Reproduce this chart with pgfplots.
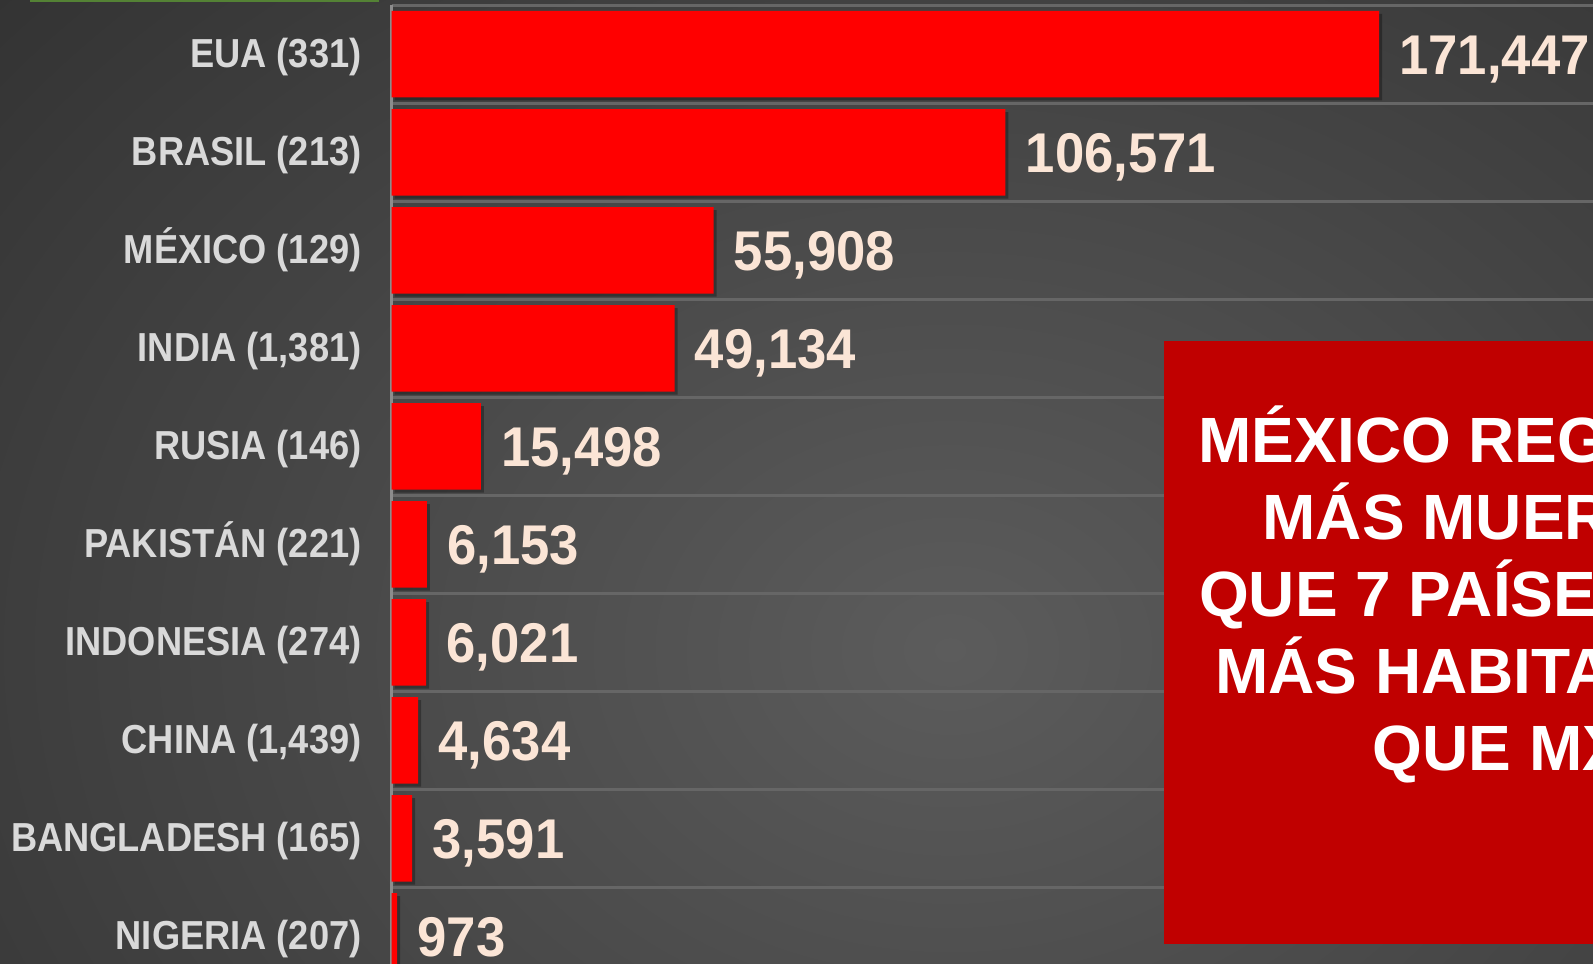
\documentclass[border=0pt]{standalone}
\usepackage{fontspec}
\setmainfont{Liberation Sans}[FakeStretch=0.895]
\newfontfamily\valfont{Liberation Sans}[FakeStretch=0.94]
\newfontfamily\boxfont{Liberation Sans}
\usepackage{pgfplots}
\pgfplotsset{compat=1.18}
\usetikzlibrary{shadows}

\definecolor{bgin}{RGB}{92,92,92}
\definecolor{bgout}{RGB}{34,34,34}
\definecolor{barred}{RGB}{255,0,0}
\definecolor{boxred}{RGB}{192,0,0}
\definecolor{labgray}{RGB}{217,217,217}
\definecolor{valpeach}{RGB}{251,229,214}
\definecolor{gridgray}{RGB}{102,102,102}
\definecolor{axgray}{RGB}{140,140,140}
\definecolor{topgreen}{RGB}{84,130,53}

\begin{document}
\begin{tikzpicture}
\useasboundingbox (0pt,0pt) rectangle (796.5pt,481.5pt);
\clip (0pt,0pt) rectangle (796.5pt,481.5pt);
% dark background, lighter towards the middle
\shade[inner color=bgin, outer color=bgout] (-425pt,-543.5pt) rectangle (1375pt,856.5pt);
\fill[topgreen] (15pt,480.5pt) rectangle (189.5pt,481.5pt);

\begin{axis}[
  at={(195.75pt,478.875pt)}, anchor=north west,
  scale only axis, width=619.2pt, height=490pt,
  xmin=0, xmax=215000, ymin=-0.5, ymax=9.5, y dir=reverse,
  xbar, bar width=43.25pt,
  axis line style={draw=none},
  xtick=\empty, ytick={0,...,9},
  yticklabels={EUA (331), BRASIL (213), MÉXICO (129), {INDIA (1,381)}, RUSIA (146),
    PAKISTÁN (221), INDONESIA (274), {CHINA (1,439)}, BANGLADESH (165), NIGERIA (207)},
  major tick length=0pt, minor tick length=0pt,
  minor ytick={-0.5,0.5,...,9.5},
  yminorgrids, minor grid style={gridgray, line width=1.5pt},
  extra x ticks={0}, extra x tick labels={},
  extra x tick style={grid=major, major grid style={axgray, line width=1.5pt}},
  yticklabel style={anchor=base east, inner sep=0pt, xshift=-14.8pt, yshift=-6.6pt,
    text=labgray, font=\fontsize{20.25}{20.25}\selectfont\bfseries},
  point meta=explicit symbolic,
  nodes near coords={\pgfplotspointmeta},
  nodes near coords style={anchor=base west, inner sep=0pt, xshift=10pt, yshift=-9.9pt,
    text=valpeach, font=\valfont\fontsize{28}{28}\selectfont\bfseries},
  clip=false,
]
\addplot[fill=barred, draw=none,
  drop shadow={shadow xshift=1.5pt, shadow yshift=-1.5pt, opacity=0.3, fill=black}] coordinates {
  (171447,0) [171,447]
  (106571,1) [106,571]
  (55908,2) [55,908]
  (49134,3) [49,134]
  (15498,4) [15,498]
  (6153,5) [6,153]
  (6021,6) [6,021]
  (4634,7) [4,634]
  (3591,8) [3,591]
  (973,9) [973]
};
\end{axis}

\fill[boxred] (582pt,9.5pt) rectangle (830pt,311pt);
\begin{scope}[every node/.style={anchor=base, inner sep=0pt, text=white,
    font=\boxfont\fontsize{32}{32}\selectfont\bfseries}]
\node at (749.5pt,250pt) {MÉXICO REGISTRA};
\node at (749.5pt,211.5pt) {MÁS MUERTES};
\node at (749.5pt,173pt) {QUE 7 PAÍSES CON};
\node at (749.5pt,134.5pt) {MÁS HABITANTES};
\node at (749.5pt,96pt) {QUE MX};
\end{scope}
\end{tikzpicture}
\end{document}
